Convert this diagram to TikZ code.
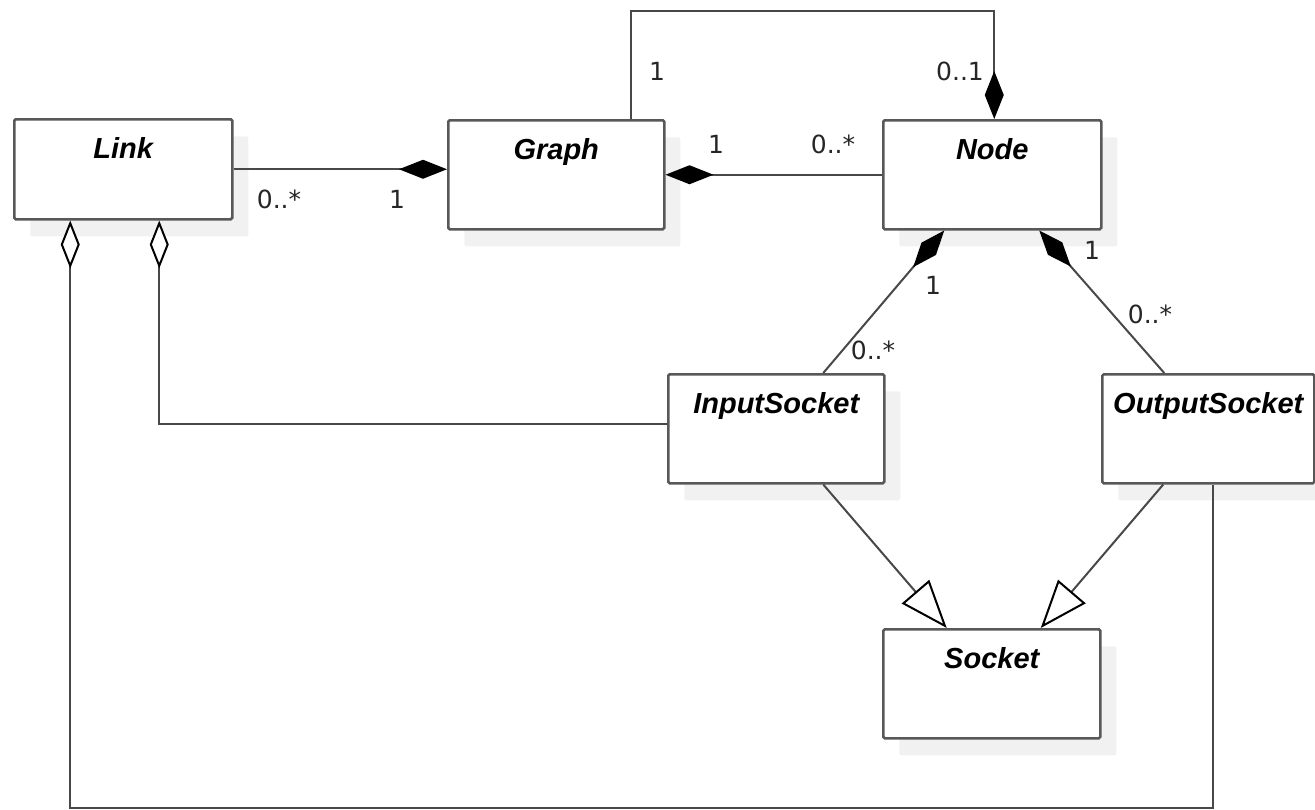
\documentclass[tikz,border=0pt]{standalone}
\usepackage{fontspec}
\usetikzlibrary{arrows.meta,shadows,positioning}
\newfontfamily\classfont{Liberation Sans}
\newfontfamily\multfont{DejaVu Sans}
\definecolor{boxgrey}{RGB}{88,88,88}
\definecolor{shadegrey}{RGB}{241,241,241}
\definecolor{wiregrey}{RGB}{72,72,72}

\tikzset{
  umlclass/.style={draw=boxgrey, line width=2.5pt, fill=white, rounded corners=1.5pt,
    anchor=north west, inner sep=0pt, minimum width=#1, minimum height=109pt,
    drop shadow={shadow xshift=16pt, shadow yshift=-17pt, fill=shadegrey, opacity=1}},
  classname/.style={font=\classfont\bfseries\itshape\fontsize{29}{32}\selectfont, anchor=base},
  mult/.style={font=\multfont\fontsize{25}{28}\selectfont, text=black!85},
  wire/.style={draw=wiregrey, line width=2pt},
  comp/.style={wire, {Diamond[length=48pt, width=19pt, color=black, fill=black]}-},
  aggr/.style={wire, {Diamond[open, length=48pt, width=19pt, color=black, fill=white]}-},
  gen/.style={wire, -{Triangle[open, length=48pt, width=36pt, color=black, fill=white]}},
}

\begin{document}
\begin{tikzpicture}[x=1pt, y=-1pt]
    \useasboundingbox (0,0) rectangle (1315,809);

    % Classes
    \node[umlclass=218pt, minimum height=100pt] (link) at (13,118) {};
    \node[umlclass=216pt] (graph) at (447,119) {};
    \node[umlclass=218pt] (gnode) at (882,119) {};
    \node[umlclass=216pt] (insock) at (667,373) {};
    \node[umlclass=212pt] (outsock) at (1101,373) {};
    \node[umlclass=217pt] (socket) at (882,628) {};

    % Class names
    \node[classname] (linkname) at ([yshift=-40pt]link.north) {Link};
    \node[classname] (graphname) at ([yshift=-40pt]graph.north) {Graph};
    \node[classname] (gnodename) at ([yshift=-40pt]gnode.north) {Node};
    \node[classname] (insockname) at ([yshift=-40pt]insock.north) {InputSocket};
    \node[classname] (outsockname) at ([yshift=-40pt]outsock.north) {OutputSocket};
    \node[classname] (socketname) at ([yshift=-40pt]socket.north) {Socket};

    % Compositions
    \draw[comp] (link.east -| graph.west) -- (link.east);
    \draw[comp] (graph.east) -- (gnode.west);
    \draw[comp] ([xshift=2pt]gnode.north) -- ++(0,-108) -| ([xshift=75pt]graph.north);
    \draw[comp] ([xshift=-48pt]gnode.south) -- ([xshift=47pt]insock.north);
    \draw[comp] ([xshift=47pt]gnode.south) -- ([xshift=-44pt]outsock.north);

    % Aggregations from Link
    \draw[aggr] ([xshift=36pt]link.south) |- ([yshift=5pt]insock.west);
    \draw[aggr] ([xshift=-53pt]link.south) -- ++(0,587) -| ([xshift=5pt]outsock.south);

    % Generalisations
    \draw[gen] ([xshift=47pt]insock.south) -- ([xshift=-45pt]socket.north);
    \draw[gen] ([xshift=-45pt]outsock.south) -- ([xshift=49pt]socket.north);

    % Multiplicities
    \node[mult] (m1) at (279,199) {0..*};
    \node[mult] (m2) at (397,199) {1};
    \node[mult] (m3) at (716,144) {1};
    \node[mult] (m4) at (833,144) {0..*};
    \node[mult] (m5) at (657,71) {1};
    \node[mult] (m6) at (960,71) {0..1};
    \node[mult] (m7) at (933,285) {1};
    \node[mult] (m8) at (873,350) {0..*};
    \node[mult] (m9) at (1092,250) {1};
    \node[mult] (m10) at (1150,314) {0..*};

\end{tikzpicture}
\end{document}
